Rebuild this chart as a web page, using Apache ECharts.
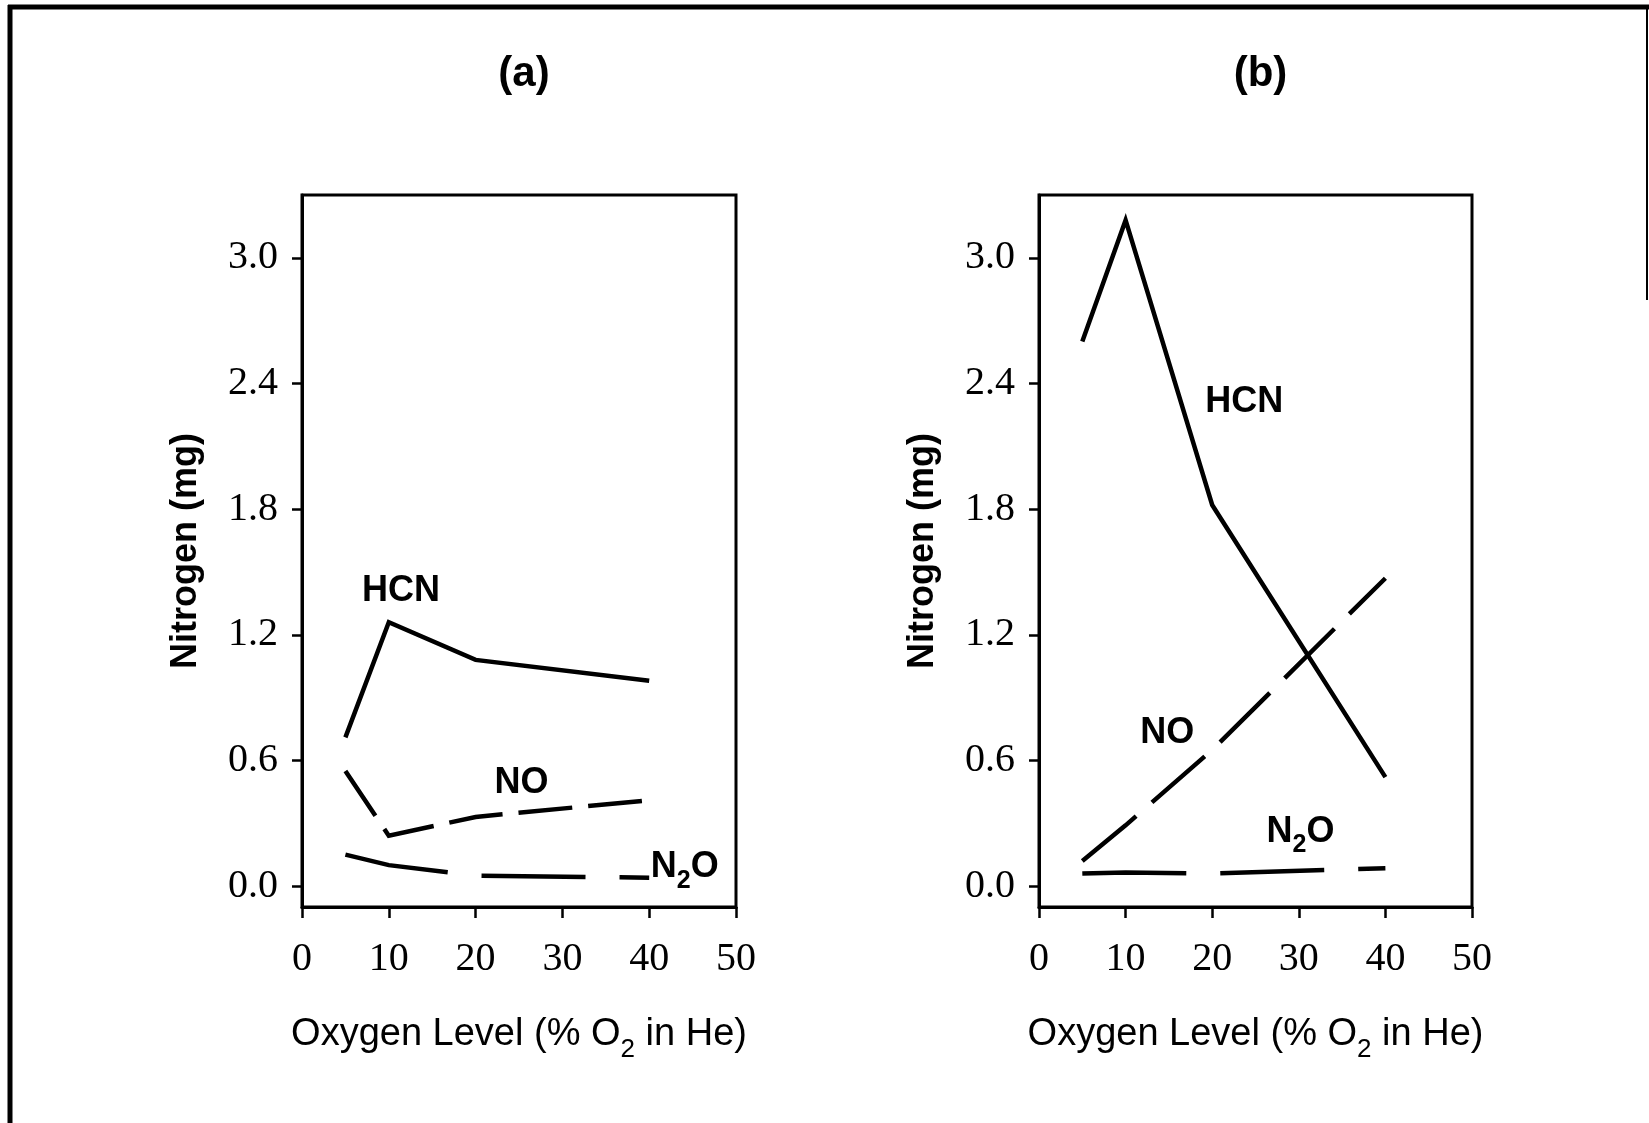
<!DOCTYPE html>
<html>
<head>
<meta charset="utf-8">
<script src="https://cdn.jsdelivr.net/npm/echarts@6/dist/echarts.min.js"></script>
<style>
  html, body { margin: 0; padding: 0; background: #ffffff; }
  #chart { width: 1649px; height: 1123px; }
</style>
</head>
<body>
<div id="chart"></div>
<script>
// Oxygen levels (% O2 in He) at which the gases were measured
const oxygenLevels = [5, 10, 20, 40];

// Panel (a): nitrogen found in each gas, mg
const hcnA = [0.71, 1.26, 1.08, 0.98];
const noA  = [0.55, 0.24, 0.33, 0.41];
const n2oA = [0.15, 0.10, 0.05, 0.04];

// Panel (b): nitrogen found in each gas, mg
const hcnB = [2.60, 3.18, 1.82, 0.52];
const noB  = [0.12, 0.29, 0.65, 1.47];
const n2oB = [0.06, 0.065, 0.06, 0.085];

// Axis ticks
const yTicks = [0, 0.6, 1.2, 1.8, 2.4, 3.0];
const xTickStep = 10;

const panelTitles = ['(a)', '(b)'];

// Where each curve's name sits, in data units [x, y]
const curveLabelSpots = [
  { hcn: [11.4, 1.41], no: [25.3, 0.49], n2o: [44.1, 0.09] },
  { hcn: [23.7, 2.31], no: [14.8, 0.73], n2o: [30.2, 0.26] }
];

const SANS = '"Liberation Sans", Arial, Helvetica, sans-serif';
const SERIF = '"Liberation Serif", "Times New Roman", serif';

const grids = [
  { left: 302, top: 195, width: 434, height: 712 },
  { left: 1039, top: 195, width: 433, height: 712 }
];

const labelRich = {
  m: { fontFamily: SANS, fontSize: 36, fontWeight: 'bold', color: '#000', lineHeight: 52 },
  s: { fontFamily: SANS, fontSize: 25, fontWeight: 'bold', color: '#000', lineHeight: 6, verticalAlign: 'bottom' }
};

function curve(panel, values, dash, spot, text) {
  return {
    type: 'line',
    xAxisIndex: panel,
    yAxisIndex: panel,
    data: oxygenLevels.map((x, i) => [x, values[i]]),
    symbol: 'none',
    showSymbol: false,
    silent: true,
    lineStyle: { color: '#000', width: 4.5, type: dash, cap: 'butt', join: 'miter' },
    markPoint: {
      silent: true,
      symbol: 'circle',
      symbolSize: 1,
      itemStyle: { color: 'rgba(0,0,0,0)' },
      label: { show: true, position: 'inside', formatter: text, rich: labelRich },
      data: [{ coord: spot }]
    }
  };
}

const xAxes = grids.map((g, i) => ({
  type: 'value',
  gridIndex: i,
  min: 0,
  max: 50,
  interval: xTickStep,
  axisLine: { show: true, onZero: false, lineStyle: { color: '#000', width: 3 } },
  axisTick: { show: true, length: 11, lineStyle: { color: '#000', width: 2.5 } },
  axisLabel: { fontFamily: SERIF, fontSize: 40, color: '#000', margin: 32 },
  splitLine: { show: false },
  name: '{t|Oxygen Level (% O}{s|2}{t| in He)}',
  nameLocation: 'middle',
  nameGap: 100,
  nameTextStyle: {
    rich: {
      t: { fontFamily: SANS, fontSize: 38, color: '#000', lineHeight: 56 },
      s: { fontFamily: SANS, fontSize: 26, color: '#000', lineHeight: 6, verticalAlign: 'bottom' }
    }
  }
}));

const yAxes = grids.map((g, i) => ({
  type: 'value',
  gridIndex: i,
  min: -0.1,
  max: 3.3,
  axisLine: { show: true, onZero: false, lineStyle: { color: '#000', width: 3 } },
  axisTick: { show: true, length: 10, customValues: yTicks, lineStyle: { color: '#000', width: 2.5 } },
  axisLabel: {
    customValues: yTicks,
    formatter: v => Number(v).toFixed(1),
    fontFamily: SERIF, fontSize: 40, color: '#000', margin: 24
  },
  splitLine: { show: false },
  name: 'Nitrogen (mg)',
  nameLocation: 'middle',
  nameGap: 98,
  nameTextStyle: { fontFamily: SANS, fontSize: 36, fontWeight: 'bold', color: '#000' }
}));

const series = [
  curve(0, hcnA, 'solid', curveLabelSpots[0].hcn, '{m|HCN}'),
  curve(0, noA, [54, 16], curveLabelSpots[0].no, '{m|NO}'),
  curve(0, n2oA, [104, 34], curveLabelSpots[0].n2o, '{m|N}{s|2}{m|O}'),
  curve(1, hcnB, 'solid', curveLabelSpots[1].hcn, '{m|HCN}'),
  curve(1, noB, [70, 21], curveLabelSpots[1].no, '{m|NO}'),
  curve(1, n2oB, [104, 34], curveLabelSpots[1].n2o, '{m|N}{s|2}{m|O}')
];

const chart = echarts.init(document.getElementById('chart'), null, { renderer: 'canvas' });
chart.setOption({
  animation: false,
  backgroundColor: '#ffffff',
  title: panelTitles.map((t, i) => ({
    text: t,
    left: grids[i].left + grids[i].width / 2,
    top: 48,
    textAlign: 'center',
    textStyle: { fontFamily: SANS, fontSize: 42, fontWeight: 'bold', color: '#000' }
  })),
  grid: grids.map(g => Object.assign({ show: true, borderColor: '#000', borderWidth: 3, containLabel: false }, g)),
  xAxis: xAxes,
  yAxis: yAxes,
  series: series,
  graphic: [
    { type: 'line', silent: true, shape: { x1: 8, y1: 7, x2: 1649, y2: 7 }, style: { stroke: '#000', lineWidth: 5 } },
    { type: 'line', silent: true, shape: { x1: 10, y1: 5, x2: 10, y2: 1123 }, style: { stroke: '#000', lineWidth: 5 } },
    { type: 'line', silent: true, shape: { x1: 1647, y1: 7, x2: 1647, y2: 300 }, style: { stroke: '#000', lineWidth: 2 } }
  ]
});
</script>
</body>
</html>
